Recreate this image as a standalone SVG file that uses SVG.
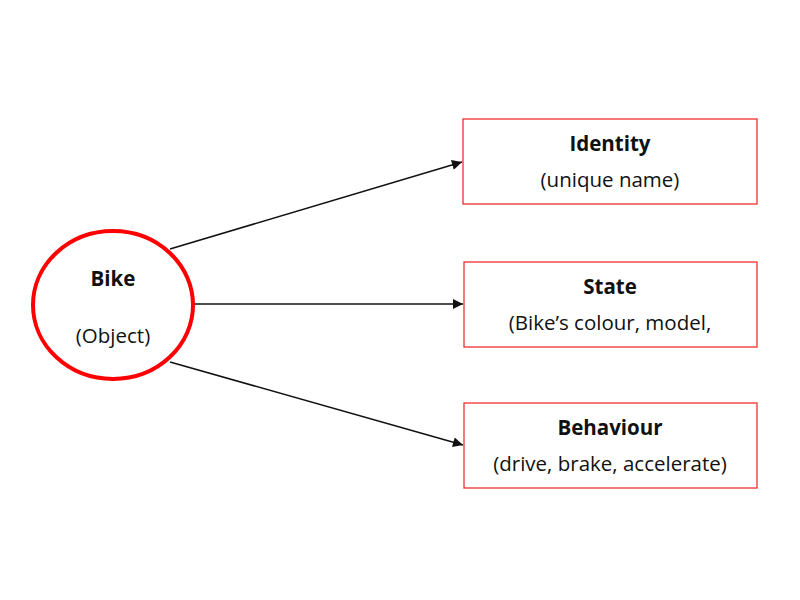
<svg xmlns="http://www.w3.org/2000/svg" width="800" height="600" viewBox="0 0 800 600">
<style>
.box{fill:#fff;stroke:#f03030;stroke-width:1.3}
.t{font-family:"Open Sans","Liberation Sans",Arial,sans-serif;font-size:20.5px;fill:#111;text-anchor:middle}
.b{font-weight:bold}
.conn{stroke:#111;stroke-width:1.5;fill:none;marker-end:url(#ah)}
</style>
<defs>
<marker id="ah" viewBox="0 0 10 10" refX="10" refY="5" markerWidth="12" markerHeight="10" markerUnits="userSpaceOnUse" orient="auto">
<path d="M0,0 L10,5 L0,10 z" fill="#111"/>
</marker>
</defs>
<rect width="800" height="600" fill="#fff"/>
<g id="connectors">
<line class="conn" x1="170" y1="249" x2="462" y2="162"/>
<line class="conn" x1="193" y1="304" x2="463" y2="304"/>
<line class="conn" x1="170" y1="362" x2="463" y2="445"/>
</g>
<g id="bike">
<ellipse cx="113" cy="305" rx="80" ry="74" fill="#fff" stroke="#f00" stroke-width="4"/>
<text class="t b" x="113" y="286">Bike</text>
<text class="t" x="113" y="343">(Object)</text>
</g>
<g id="identity">
<rect class="box" x="463" y="119" width="294" height="85"/>
<text class="t b" x="610" y="151">Identity</text>
<text class="t" x="610" y="187">(unique name)</text>
</g>
<g id="state">
<rect class="box" x="464" y="262" width="293" height="85"/>
<text class="t b" x="610" y="294">State</text>
<text class="t" x="610" y="330">(Bike’s colour, model,</text>
</g>
<g id="behaviour">
<rect class="box" x="464" y="403" width="293" height="85"/>
<text class="t b" x="610" y="435">Behaviour</text>
<text class="t" x="610" y="471">(drive, brake, accelerate)</text>
</g>
</svg>
